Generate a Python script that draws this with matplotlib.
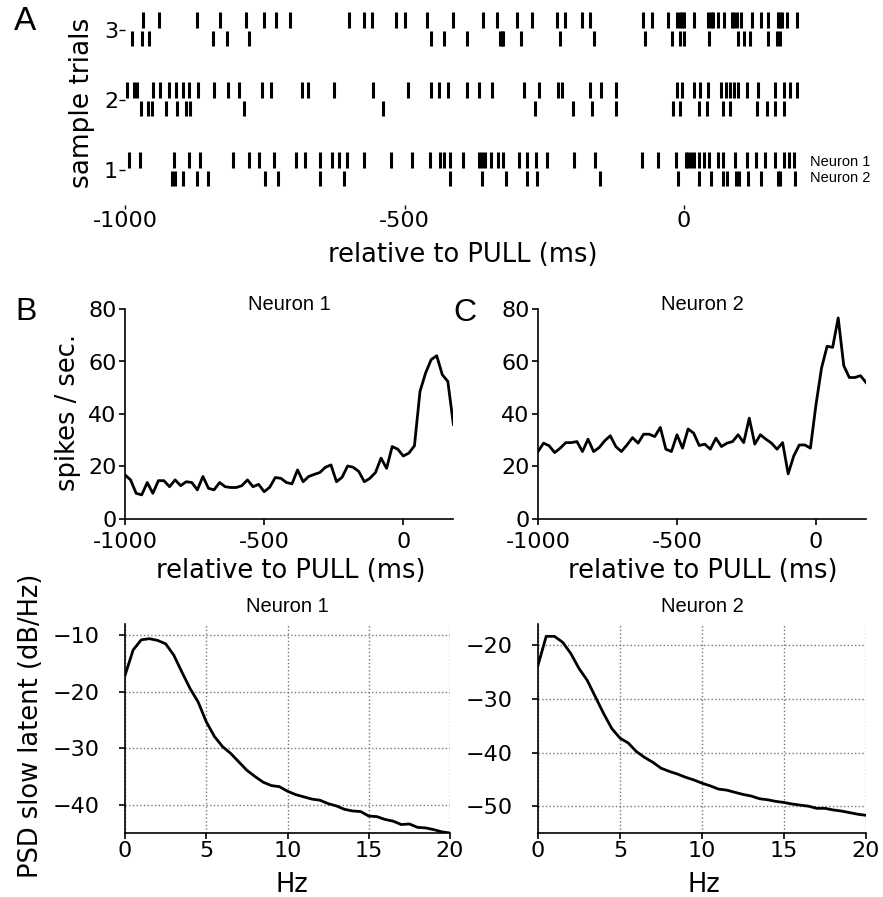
import matplotlib
matplotlib.use("Agg")
import matplotlib.pyplot as plt
import numpy as np

# ---------------- data ----------------
# Panel A: spike times (ms relative to PULL)
trial3_neuron1 = [-967, -940, -871, -830, -784, -751, -729, -705, -599, -573, -559, -515, -500,
                  -460, -414, -359, -335, -298, -272, -227, -212, -183, -168, -73, -58, -29, -13,
                  -8, -4, 0, 18, 43, 48, 52, 60, 72, 85, 90, 94, 102, 121, 138, 150, 168, 172,
                  175, 184, 202]
trial3_neuron2 = [-988, -970, -957, -843, -817, -779, -453, -429, -388, -330, -326, -323, -292,
                  -222, -161, -70, -22, -8, 0, 45, 96, 108, 118, 150, 166, 172]
trial2_neuron1 = [-996, -984, -979, -950, -937, -921, -909, -897, -885, -869, -840, -815, -796,
                  -755, -739, -684, -672, -627, -557, -493, -453, -438, -423, -388, -367, -344,
                  -286, -259, -225, -219, -169, -148, -122, -13, -4, 17, 29, 43, 67, 75, 82, 89,
                  96, 112, 132, 162, 179, 190, 202]
trial2_neuron2 = [-972, -958, -952, -926, -907, -891, -883, -788, -539, -267, -199, -164, -122,
                  -19, -7, 27, 41, 70, 82, 130, 148, 163, 179]
trial1_neuron1 = [-992, -973, -913, -885, -865, -806, -778, -760, -734, -694, -678, -651, -630,
                  -618, -603, -573, -525, -487, -455, -437, -430, -419, -395, -366, -361, -356,
                  -346, -332, -323, -295, -280, -265, -245, -197, -160, -75, -46, -15, 3, 8, 12,
                  18, 26, 35, 45, 60, 69, 91, 112, 128, 145, 163, 179, 187, 196]
trial1_neuron2 = [-916, -911, -897, -871, -852, -750, -727, -651, -609, -419, -361, -319, -281,
                  -263, -150, -11, 26, 48, 69, 77, 93, 99, 115, 138, 168, 172, 199]
trial_labels = ["1", "2", "3"]
raster_ticks = [-1000, -500, 0]
raster_tick_labels = ["-1000", "-500", "0"]

# Panels B, C: firing rate, 20 ms bins from -1000 to 180 ms
rate_bins = np.arange(-1000, 181, 20)
rate_neuron1 = [16.8, 14.9, 9.8, 9.2, 13.9, 9.8, 14.6, 14.6, 12.3, 14.9,
                12.7, 14.2, 13.9, 11.1, 16.2, 11.7, 11.1, 13.9, 12.3, 12.0,
                12.0, 12.7, 14.9, 12.3, 13.2, 10.4, 12.1, 15.8, 15.5, 13.9,
                13.4, 18.7, 14.2, 16.2, 17.0, 17.7, 19.7, 20.6, 14.2, 15.9,
                20.2, 19.7, 18.1, 14.2, 15.5, 17.7, 23.2, 19.3, 27.6, 26.6,
                24.0, 25.1, 27.9, 48.6, 55.6, 60.7, 62.2, 55.0, 52.4, 36.0]
rate_neuron2 = [25.7, 28.9, 27.9, 25.3, 27.0, 29.1, 29.1, 29.5, 25.7, 30.4,
                25.7, 27.2, 29.8, 31.7, 27.6, 25.7, 28.2, 31.0, 28.9, 32.3,
                32.3, 31.4, 34.9, 26.6, 25.7, 32.1, 27.0, 34.3, 32.7, 28.0,
                28.5, 26.6, 30.8, 27.6, 28.9, 29.5, 32.1, 29.1, 38.4, 28.5,
                32.1, 30.4, 28.9, 26.6, 29.1, 17.2, 24.0, 28.2, 28.2, 27.0,
                43.5, 57.5, 65.8, 65.4, 76.6, 58.4, 53.9, 53.9, 54.6, 52.0]
rate_yticks = [0, 20, 40, 60, 80]

# Bottom panels: PSD of slow latent, 0..20 Hz in 0.5 Hz steps
psd_freq = np.arange(0, 20.01, 0.5)
psd_neuron1 = [-17.1, -12.6, -10.8, -10.6, -10.9, -11.5, -13.5, -16.5, -19.4, -21.8,
               -25.3, -27.9, -29.7, -30.9, -32.4, -33.9, -35.0, -36.0, -36.6, -36.8,
               -37.6, -38.2, -38.6, -39.0, -39.2, -39.8, -40.2, -40.8, -41.1, -41.2,
               -42.0, -42.1, -42.6, -42.9, -43.5, -43.4, -44.0, -44.1, -44.4, -44.8,
               -45.0]
psd_neuron2 = [-23.7, -18.3, -18.3, -19.4, -21.5, -24.3, -26.5, -29.6, -32.7, -35.5,
               -37.3, -38.2, -39.8, -40.9, -41.8, -42.9, -43.5, -44.0, -44.6, -45.1,
               -45.7, -46.2, -46.8, -47.0, -47.4, -47.8, -48.1, -48.6, -48.8, -49.1,
               -49.3, -49.6, -49.8, -50.0, -50.4, -50.4, -50.7, -50.9, -51.2, -51.5,
               -51.7]
psd_xticks = [0, 5, 10, 15, 20]

# ---------------- figure ----------------
W, H = 883, 897
fig = plt.figure(figsize=(W / 100, H / 100), dpi=100)
SANS = "Liberation Sans"


def box(l, r, t, b):
    return [l / W, 1 - b / H, (r - l) / W, (b - t) / H]


# ---- Panel A: raster ----
axA = fig.add_axes(box(125, 800, 8, 205))
n1_trials = [trial1_neuron1, trial2_neuron1, trial3_neuron1]
n2_trials = [trial1_neuron2, trial2_neuron2, trial3_neuron2]
for k, (s1, s2) in enumerate(zip(n1_trials, n2_trials), start=1):
    axA.eventplot([s1], lineoffsets=k + 0.14, linelengths=0.22, colors="k", linewidths=2.2)
    axA.eventplot([s2], lineoffsets=k - 0.12, linelengths=0.22, colors="k", linewidths=2.2)
axA.set_xlim(-1000, 207.5)
axA.set_ylim(0.5, 3.314)
axA.set_yticks([1, 2, 3])
axA.set_yticklabels(trial_labels)
axA.set_xticks(raster_ticks)
axA.set_xticklabels(raster_tick_labels)
for s in axA.spines.values():
    s.set_visible(False)
axA.tick_params(axis="y", length=4, width=1, labelsize=16, pad=1)
axA.tick_params(axis="x", length=3, width=1, labelsize=16, pad=1)
axA.set_xlabel("relative to PULL (ms)", fontsize=18.5, va="center")
axA.xaxis.set_label_coords(0.5, -0.254)
axA.set_ylabel("sample trials", fontsize=19, va="center")
axA.yaxis.set_label_coords(-0.0637, 0.518)
fig.text(810 / W, 1 - 162 / H, "Neuron 1", fontsize=10.5, family=SANS, ha="left", va="center")
fig.text(810 / W, 1 - 178 / H, "Neuron 2", fontsize=10.5, family=SANS, ha="left", va="center")


def style_rate(ax, data, title):
    ax.plot(rate_bins, data, color="k", lw=2)
    ax.set_xlim(-1000, 180)
    ax.set_ylim(0, 80)
    ax.set_yticks(rate_yticks)
    ax.set_xticks(raster_ticks)
    ax.set_xticklabels(raster_tick_labels)
    ax.spines["top"].set_visible(False)
    ax.spines["right"].set_visible(False)
    for s in ("left", "bottom"):
        ax.spines[s].set_linewidth(1.2)
    ax.tick_params(axis="y", length=4.5, width=1.2, labelsize=16, pad=1.5)
    ax.tick_params(axis="x", length=4.5, width=1.2, labelsize=16, pad=4.5)
    ax.set_xlabel("relative to PULL (ms)", fontsize=18.5, va="center")
    ax.text(0.5, 1 + 4 / 210, title, transform=ax.transAxes, ha="center", va="center",
            fontsize=14.5, family=SANS)


axB = fig.add_axes(box(125, 453.4, 309, 519))
style_rate(axB, rate_neuron1, "Neuron 1")
axB.xaxis.set_label_coords(0.504, -0.25)
axB.set_ylabel("spikes / sec.", fontsize=18.5, va="center")
axB.yaxis.set_label_coords(-0.1736, 0.505)

axC = fig.add_axes(box(538, 866, 309, 519))
style_rate(axC, rate_neuron2, "Neuron 2")
axC.xaxis.set_label_coords(0.502, -0.25)


def style_psd(ax, data, title, ylim, yticks):
    ax.plot(psd_freq, data, color="k", lw=2)
    ax.set_xlim(0, 20)
    ax.set_ylim(*ylim)
    ax.set_xticks(psd_xticks)
    ax.set_yticks(yticks)
    ax.grid(True, linestyle=":", color="#777777", lw=1)
    ax.spines["top"].set_visible(False)
    ax.spines["right"].set_visible(False)
    for s in ("left", "bottom"):
        ax.spines[s].set_linewidth(1.2)
    ax.tick_params(axis="x", length=4.5, width=1.2, labelsize=16, pad=1)
    ax.tick_params(axis="y", length=4.5, width=1.2, labelsize=16, pad=14)
    ax.set_xlabel("Hz", fontsize=18.5, va="center")
    ax.text(0.5, 1 + 17 / 209, title, transform=ax.transAxes, ha="center", va="center",
            fontsize=14.5, family=SANS)


axD = fig.add_axes(box(125, 450, 624, 833))
style_psd(axD, psd_neuron1, "Neuron 1", (-45, -8), [-40, -30, -20, -10])
axD.xaxis.set_label_coords(0.513, -0.249)
axD.set_ylabel("PSD slow latent (dB/Hz)", fontsize=18.5, va="center")
axD.yaxis.set_label_coords(-0.289, 0.512)

axE = fig.add_axes(box(538, 866, 624, 833))
style_psd(axE, psd_neuron2, "Neuron 2", (-55, -16), [-50, -40, -30, -20])
axE.xaxis.set_label_coords(0.506, -0.249)

# panel letters
fig.text(25 / W, 1 - 22 / H, "A", fontsize=24, family=SANS, ha="center", va="center")
fig.text(26 / W, 1 - 312 / H, "B", fontsize=23, family=SANS, ha="center", va="center")
fig.text(465 / W, 1 - 313 / H, "C", fontsize=23, family=SANS, ha="center", va="center")

fig.savefig("out.png", dpi=100, facecolor="white")
